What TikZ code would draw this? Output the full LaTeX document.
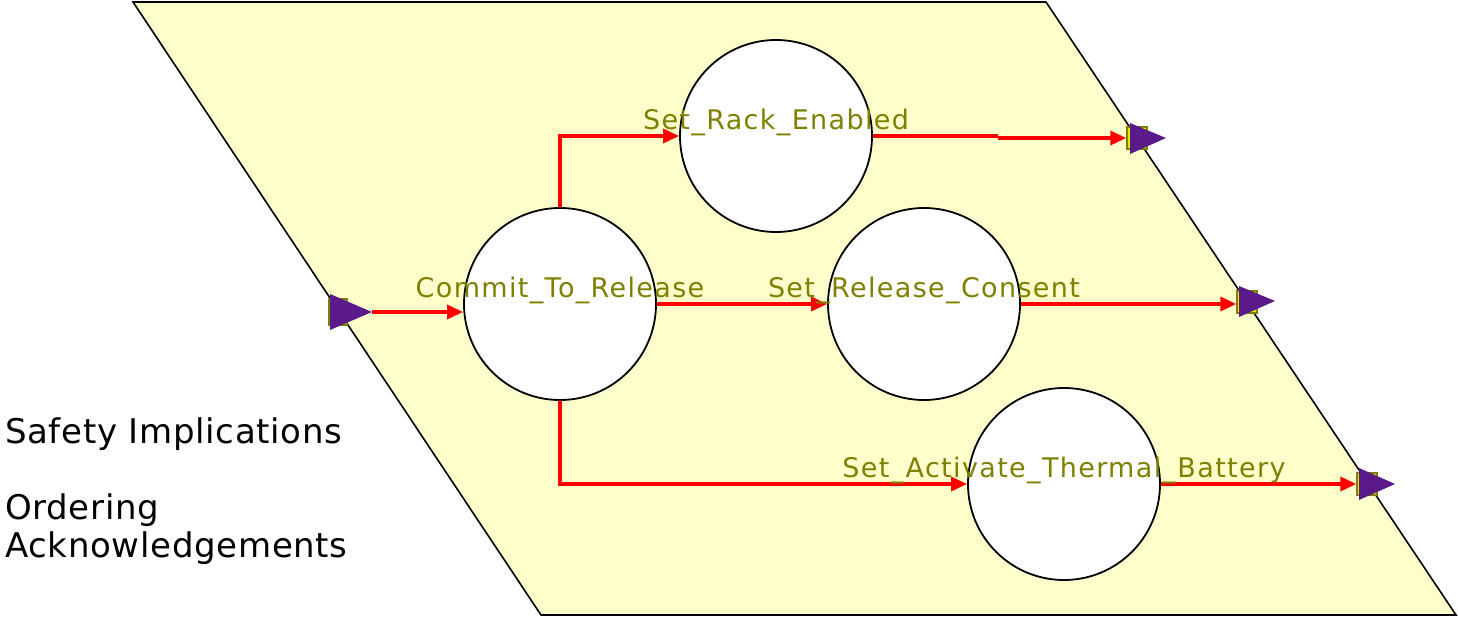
\documentclass[tikz,border=0pt]{standalone}
\usepackage{fontspec}
\setmainfont{DejaVu Sans}
\usetikzlibrary{arrows.meta}
\definecolor{padfill}{HTML}{FFFFCC}
\definecolor{olive}{HTML}{808000}
\definecolor{portfill}{HTML}{E8E800}
\definecolor{portarrow}{HTML}{5A1A8A}
\tikzset{
  x=1pt, y=-1pt,
  procnode/.style={circle, draw=black, line width=1.8pt, fill=white, minimum size=192pt, inner sep=0pt},
  proclabel/.style={text=olive, font=\fontsize{27}{27}\selectfont\addfontfeature{LetterSpace=5}, inner sep=0pt, anchor=base},
  flow/.style={red, line width=3.4pt, -{Triangle[length=16pt,width=14pt]}},
  flowplain/.style={red, line width=3.4pt},
  portbox/.style={draw=olive, line width=1.4pt, fill=portfill, minimum width=20pt, minimum height=22pt, inner sep=0pt},
  porttri/.style={fill=portarrow, draw=none}
}
\begin{document}
\begin{tikzpicture}
\useasboundingbox (0,0) rectangle (1458,617);
% enclosing region
\draw[fill=padfill, line width=1.6pt] (133,2) -- (1046,2) -- (1456,615) -- (541,615) -- cycle;

% processes
\node[procnode] (commit)  at (560,304) {};
\node[procnode] (rack)    at (776,136) {};
\node[procnode] (consent) at (924,304) {};
\node[procnode] (thermal) at (1064,484) {};

% input port
\node[portbox, minimum width=18pt, minimum height=26pt] (inport) at (338,312) {};
\fill[porttri] (330,294) -- (372,312) -- (330,330) -- cycle;
\coordinate (intip) at (372,312);

% output ports
\node[portbox] (out1) at (1137,138) {};
\fill[porttri] (1130,123) -- (1166,138) -- (1130,154) -- cycle;
\node[portbox] (out2) at (1247,302) {};
\fill[porttri] (1239,286) -- (1275,301) -- (1239,317) -- cycle;
\node[portbox] (out3) at (1367,484) {};
\fill[porttri] (1359,468) -- (1395,484) -- (1359,500) -- cycle;

% connectors
\draw[flow] (intip) -- (commit.west |- intip);
\draw[flow] (commit.north) |- (rack.west);
\draw[flow] (commit.east |- consent.west) -- (consent.west);
\draw[flow] (commit.south) |- (thermal.west);
\coordinate (rackstep) at (998,136);
\draw[flowplain] (rack.east) -- (rackstep);
\draw[flow] (rackstep |- out1) -- (out1.west);
\draw[flow] (consent.east) -- (out2.west |- consent.east);
\draw[flow] (thermal.east) -- (out3.west);

% labels
\node[proclabel] (lcommit)  at (560,298) {Commit\_To\_Release};
\node[proclabel] (lrack)    at (776,130) {Set\_Rack\_Enabled};
\node[proclabel] (lconsent) at (924,298) {Set\_Release\_Consent};
\node[proclabel] (lthermal) at (1064,477) {Set\_Activate\_Thermal\_Battery};

% side note
\node[anchor=base west, align=left, inner sep=0pt, font=\fontsize{34}{38}\selectfont\addfontfeature{LetterSpace=2}] (notes) at (5,557)
  {Safety Implications\\[38pt] Ordering\\ Acknowledgements};
\end{tikzpicture}
\end{document}
